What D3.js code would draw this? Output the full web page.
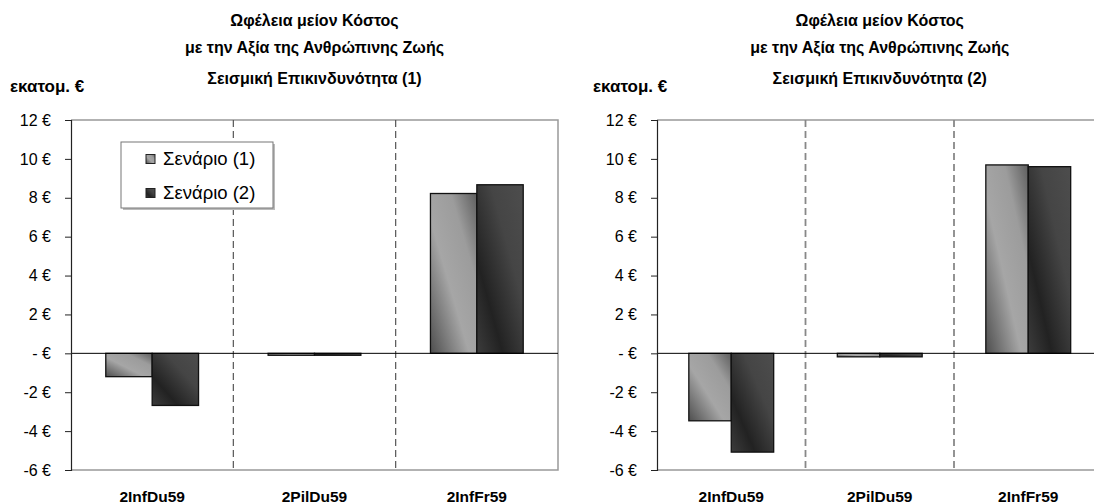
<!DOCTYPE html>
<html>
<head>
<meta charset="utf-8">
<script src="https://cdn.jsdelivr.net/npm/d3@7"></script>
<style>
  html, body { margin: 0; padding: 0; background: #fff; }
  svg { display: block; font-family: "Liberation Sans", Arial, sans-serif; }
</style>
</head>
<body>
<svg id="chart" width="1094" height="504"></svg>
<script>
// Net benefit (benefit minus cost) per retrofit option, million €
const categories = ["2InfDu59", "2PilDu59", "2InfFr59"];
const seriesNames = ["Σενάριο (1)", "Σενάριο (2)"];

// Seismic hazard (1)
const hazard1Scenario1 = [-1.2, -0.1, 8.22];
const hazard1Scenario2 = [-2.68, -0.1, 8.67];

// Seismic hazard (2)
const hazard2Scenario1 = [-3.47, -0.18, 9.69];
const hazard2Scenario2 = [-5.08, -0.18, 9.6];

const yTicks = [12, 10, 8, 6, 4, 2, 0, -2, -4, -6];
const yTickLabels = ["12 €", "10 €", "8 €", "6 €", "4 €", "2 €", "- €", "-2 €", "-4 €", "-6 €"];
const yDomain = [-6, 12];

const titleLines = ["Ωφέλεια μείον Κόστος", "με την Αξία της Ανθρώπινης Ζωής"];
const hazardTitles = ["Σεισμική Επικινδυνότητα (1)", "Σεισμική Επικινδυνότητα (2)"];
const unitLabel = "εκατομ. €";

const svg = d3.select("#chart");
const defs = svg.append("defs");

// Shaded fills for the two scenarios
function addGradient(id, stops) {
  const g = defs.append("linearGradient").attr("id", id)
    .attr("x1", 0).attr("y1", 1).attr("x2", 1).attr("y2", 0);
  stops.forEach(([o, c]) => g.append("stop").attr("offset", o).attr("stop-color", c));
}
addGradient("fill-s1", [[0, "#4e4e4e"], [0.42, "#a6a6a6"], [0.72, "#9c9c9c"], [1, "#5e5e5e"]]);
addGradient("fill-s2", [[0, "#3c3c3c"], [0.28, "#222"], [0.65, "#454545"], [1, "#4d4d4d"]]);
const fills = ["url(#fill-s1)", "url(#fill-s2)"];

function drawPanel(opts) {
  const { left, right, top, bottom, s1, s2, hazardTitle, unitX, withLegend, dividerStyle } = opts;
  const g = svg.append("g");

  const y = d3.scaleLinear().domain(yDomain).range([bottom, top]);
  const x0 = d3.scaleBand().domain(categories).range([left, right]).padding(0);
  const x1 = d3.scaleBand().domain(seriesNames).range([0, x0.bandwidth()])
    .paddingInner(0).paddingOuter(0.75);

  // plot frame (top, right, bottom)
  g.append("path")
    .attr("d", `M${left},${top}H${right}V${bottom}H${left}`)
    .attr("fill", "none").attr("stroke", "#999").attr("stroke-width", 1.5);

  // category dividers
  categories.slice(1).forEach(c => {
    g.append("line")
      .attr("x1", x0(c)).attr("x2", x0(c))
      .attr("y1", top).attr("y2", bottom)
      .attr("stroke", dividerStyle.color).attr("stroke-width", dividerStyle.width)
      .attr("stroke-dasharray", "7,4");
  });

  // bars
  const rows = categories.map((c, i) => ({ c, vals: [s1[i], s2[i]] }));
  const groups = g.selectAll(".grp").data(rows).join("g")
    .attr("transform", d => `translate(${x0(d.c)},0)`);
  groups.selectAll("rect").data(d => d.vals.map((v, k) => ({ v, k })))
    .join("rect")
    .attr("x", d => x1(seriesNames[d.k]))
    .attr("width", x1.bandwidth())
    .attr("y", d => y(Math.max(0, d.v)))
    .attr("height", d => Math.abs(y(d.v) - y(0)))
    .attr("fill", d => fills[d.k])
    .attr("stroke", "#111").attr("stroke-width", 1.3);

  // zero line
  g.append("line").attr("x1", left).attr("x2", right)
    .attr("y1", y(0)).attr("y2", y(0))
    .attr("stroke", "#000").attr("stroke-width", 1);

  // y axis
  const axis = d3.axisLeft(y).tickValues(yTicks)
    .tickFormat((d, i) => yTickLabels[i]).tickSize(6).tickPadding(14);
  const ax = g.append("g").attr("transform", `translate(${left},0)`).call(axis);
  ax.attr("font-size", null).attr("font-family", null);
  ax.select(".domain").attr("stroke", "#222").attr("stroke-width", 1.2);
  ax.selectAll(".tick line").attr("stroke", "#222");
  ax.selectAll(".tick text").style("font-size", "16px").attr("fill", "#000");

  // category labels
  g.selectAll(".cat").data(categories).join("text")
    .attr("x", d => x0(d) + x0.bandwidth() / 2)
    .attr("y", 502)
    .attr("text-anchor", "middle")
    .style("font-size", "15.5px").attr("font-weight", "bold")
    .text(d => d);

  // title
  const cx = (left + right) / 2;
  [...titleLines, hazardTitle].forEach((t, i) => {
    g.append("text").attr("x", cx).attr("y", [26, 53, 84][i])
      .attr("text-anchor", "middle").style("font-size", "16px").attr("font-weight", "bold")
      .text(t);
  });

  // unit label
  g.append("text").attr("x", unitX).attr("y", 92)
    .style("font-size", "17px").attr("font-weight", "bold").text(unitLabel);

  if (withLegend) {
    const lx = 121, ly = 142, lw = 152, lh = 66;
    g.append("rect").attr("x", lx + 2).attr("y", ly + 2).attr("width", lw).attr("height", lh)
      .attr("fill", "#bbb");
    g.append("rect").attr("x", lx).attr("y", ly).attr("width", lw).attr("height", lh)
      .attr("fill", "#fff").attr("stroke", "#777").attr("stroke-width", 1);
    seriesNames.forEach((s, k) => {
      const yy = ly + 17 + k * 34;
      g.append("rect").attr("x", lx + 25).attr("y", yy - 4.5).attr("width", 9).attr("height", 9)
        .attr("fill", fills[k]).attr("stroke", "#222").attr("stroke-width", 1);
      g.append("text").attr("x", lx + 42).attr("y", yy + 6)
        .style("font-size", "18.5px").text(s);
    });
  }
}

drawPanel({
  left: 71, right: 558, top: 120, bottom: 470,
  s1: hazard1Scenario1, s2: hazard1Scenario2,
  hazardTitle: hazardTitles[0], unitX: 10, withLegend: true,
  dividerStyle: { color: "#555", width: 1.2 }
});
drawPanel({
  left: 657, right: 1102.5, top: 120, bottom: 470,
  s1: hazard2Scenario1, s2: hazard2Scenario2,
  hazardTitle: hazardTitles[1], unitX: 593, withLegend: false,
  dividerStyle: { color: "#888", width: 1.8 }
});
</script>
</body>
</html>
